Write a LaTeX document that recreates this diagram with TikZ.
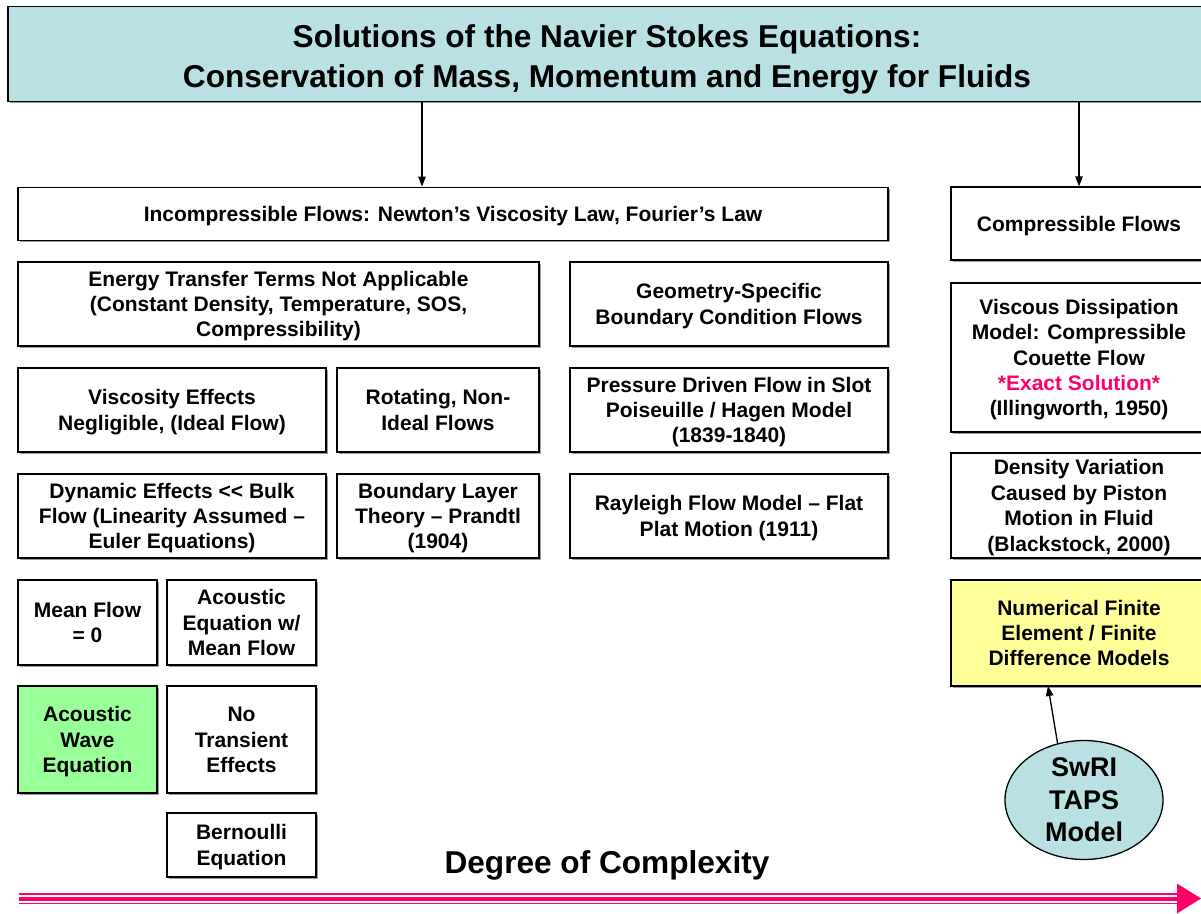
\documentclass[tikz,border=0pt]{standalone}
\usepackage{fontspec}
\setmainfont{Liberation Sans}
\usetikzlibrary{arrows.meta,shapes.geometric,shadows}
\definecolor{titlefill}{RGB}{185,224,227}
\definecolor{greenfill}{RGB}{153,255,153}
\definecolor{yellowfill}{RGB}{255,255,153}
\definecolor{hotpink}{RGB}{255,0,102}
\newcommand\firststrut{\rule{0pt}{21pt}}
\newcommand\titlestrut{\rule{0pt}{33pt}}
\begin{document}
\begin{tikzpicture}[x=1pt,y=-1pt,
  boxframe/.style={draw=black, line width=1.3pt, fill=white, align=center, inner sep=0pt,
    drop shadow={shadow xshift=1.6pt, shadow yshift=-1.6pt, fill=black!55, opacity=0.7}},
  box/.style={boxframe, font=\bfseries\fontsize{21}{25.4}\selectfont,
    execute at end node={\rule[-6pt]{0pt}{6pt}}},
  titlebox/.style={boxframe, font=\bfseries\fontsize{31.6}{39.6}\selectfont,
    execute at end node={\rule[-6pt]{0pt}{6pt}}},
  conn/.style={line width=1.3pt, -{Triangle[length=10pt,width=7.5pt]}},
  big/.style={font=\bfseries\fontsize{31.6}{38}\selectfont, align=center,
    execute at begin node={\rule{0pt}{30pt}},
    execute at end node={\rule[-7.5pt]{0pt}{7.5pt}}}]
\useasboundingbox (0,0) rectangle (1201,913);
\fill[white] (0,0) rectangle (1201,913);

\node[titlebox, fill=titlefill, minimum width=1198pt, minimum height=95pt] (title) at (607,54.2)
  {\titlestrut Solutions of the Navier Stokes Equations:\\Conservation of Mass, Momentum and Energy for Fluids};

\node[box, minimum width=870pt, minimum height=53pt] (incomp) at (453,213.7)
  {\firststrut Incompressible Flows: Newton’s Viscosity Law, Fourier’s Law};
\node[box, minimum width=256pt, minimum height=73pt] (comp) at (1079,223.5)
  {\firststrut Compressible Flows};

\node[box, minimum width=521pt, minimum height=84pt] (energy) at (278.5,304)
  {\firststrut Energy Transfer Terms Not Applicable\\(Constant Density, Temperature, SOS,\\Compressibility)};
\node[box, minimum width=318pt, minimum height=84pt] (geom) at (729,304)
  {\firststrut Geometry-Specific\\Boundary Condition Flows};
\node[box, minimum width=256pt, minimum height=149pt] (viscous) at (1079,357.5)
  {\firststrut Viscous Dissipation\\Model: Compressible\\Couette Flow\\{\color{hotpink}*Exact Solution*}\\(Illingworth, 1950)};

\node[box, minimum width=308pt, minimum height=84pt] (viscosity) at (172,410)
  {\firststrut Viscosity Effects\\Negligible, (Ideal Flow)};
\node[box, minimum width=202pt, minimum height=84pt] (rotating) at (438,410)
  {\firststrut Rotating, Non-\\Ideal Flows};
\node[box, minimum width=318pt, minimum height=84pt] (pressure) at (729,410)
  {\firststrut Pressure Driven Flow in Slot\\Poiseuille / Hagen Model\\(1839-1840)};
\node[box, minimum width=256pt, minimum height=105pt] (density) at (1079,505.5)
  {\firststrut Density Variation\\Caused by Piston\\Motion in Fluid\\(Blackstock, 2000)};

\node[box, minimum width=308pt, minimum height=84pt] (dynamic) at (172,516)
  {\firststrut Dynamic Effects <\kern0pt< Bulk\\Flow (Linearity Assumed –\\Euler Equations)};
\node[box, minimum width=202pt, minimum height=84pt] (boundary) at (438,516)
  {\firststrut Boundary Layer\\Theory – Prandtl\\(1904)};
\node[box, minimum width=318pt, minimum height=84pt] (rayleigh) at (729,516)
  {\firststrut Rayleigh Flow Model – Flat\\Plat Motion (1911)};

\node[box, minimum width=139pt, minimum height=85pt] (mean) at (87.5,622.5)
  {\firststrut Mean Flow\\= 0};
\node[box, minimum width=149pt, minimum height=85pt] (aceq) at (241.5,622.5)
  {\firststrut Acoustic\\Equation w/\\Mean Flow};
\node[box, fill=yellowfill, minimum width=256pt, minimum height=106pt] (numerical) at (1079,633)
  {\firststrut Numerical Finite\\Element / Finite\\Difference Models};

\node[box, fill=greenfill, minimum width=139pt, minimum height=107pt] (acwave) at (87.5,739.5)
  {\firststrut Acoustic\\Wave\\Equation};
\node[box, minimum width=149pt, minimum height=107pt] (notrans) at (241.5,739.5)
  {\firststrut No\\Transient\\Effects};
\node[box, minimum width=149pt, minimum height=64pt] (bernoulli) at (241.5,845)
  {\firststrut Bernoulli\\Equation};

\node[ellipse, draw=black, line width=1.3pt, fill=titlefill, inner sep=0pt,
  minimum width=158pt, minimum height=114pt, align=center,
  font=\bfseries\fontsize{27}{32.5}\selectfont] (taps) at (1084,800)
  {SwRI\\TAPS\\Model};

\node[big] (degree) at (607,862.2) {Degree of Complexity};

% connectors
\coordinate (a1) at (422,187);
\draw[conn] (title.south -| a1) -- (incomp.north -| a1);
\draw[conn] (title.south -| comp.north) -- (comp.north);
\coordinate (ntip) at (1048,686);
\draw[conn] (taps.115) -- (ntip);

% complexity arrow
\coordinate (ps) at (19,899);
\coordinate (pe) at (1177,899);
\coordinate (ptip) at (1201,898.5);
\draw[hotpink, line width=2.4pt] ([yshift=5pt]ps) -- ([yshift=5pt]pe);
\draw[hotpink, line width=4.7pt] (ps) -- (pe);
\draw[hotpink, line width=1.5pt] ([yshift=-4.3pt]ps) -- ([yshift=-4.3pt]pe);
\fill[hotpink] ([yshift=15.5pt]pe) -- (ptip) -- ([yshift=-14.5pt]pe) -- cycle;
\end{tikzpicture}
\end{document}
